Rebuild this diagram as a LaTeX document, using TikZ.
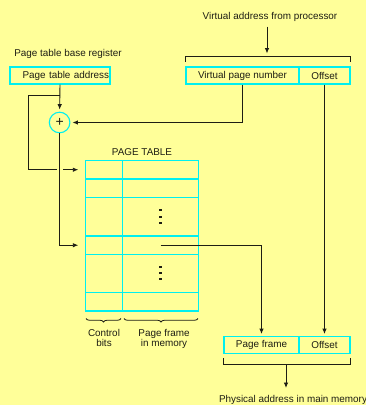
\documentclass[tikz,border=0pt]{standalone}
\usepackage{fontspec}
\setmainfont{Liberation Sans}
\usetikzlibrary{arrows.meta,decorations.pathreplacing}
\definecolor{paper}{RGB}{255,255,153}
\definecolor{regline}{RGB}{0,240,240}
\definecolor{ink}{RGB}{30,30,20}
\tikzset{
  reg/.style={draw=regline, line width=1.1pt, inner sep=0pt, minimum height=17pt, text=ink},
  lbl/.style={inner sep=0pt, anchor=base, text=ink},
  wire/.style={draw=ink, line width=0.9pt},
  arr/.style={wire, -{Latex[length=5.5pt,width=4.5pt]}},
  grid/.style={draw=regline, line width=1.1pt},
  dotmark/.style={fill=ink},
  brc/.style={draw=ink, line width=0.8pt, decorate, decoration={brace, mirror, amplitude=3.5pt}}
}
\begin{document}
\begin{tikzpicture}[x=1pt, y=-1pt, font=\fontsize{9.9}{9.4}\selectfont]
\fill[paper] (0,0) rectangle (366,405);
\useasboundingbox (0,0) rectangle (366,405);

% --- virtual address register ---
\node[lbl] (vatext) at (270,19) {Virtual address from processor};
\node[reg, minimum width=113pt] (vpn) at (242.5,75.5) {Virtual page number};
\node[reg, minimum width=51pt] (voff) at (324.5,75.5) {Offset};
\coordinate (vaTop) at (267,26.7);
\coordinate (vaBrk) at (267,57);
\draw[wire] ([yshift=4.7pt]vpn.north west) -- ([yshift=10pt]vpn.north west)
  -- ([yshift=10pt]voff.north east) -- ([yshift=4.7pt]voff.north east);
\draw[arr, shorten >=3.5pt] (vaTop) -- (vaBrk);

% --- page table base register ---
\node[lbl] (ptbrtext) at (68,56) {Page table base register};
\node[reg, minimum width=100pt, text width=98pt, inner xsep=1pt, align=right] (pta) at (60,75.5) {Page table address};

% --- adder ---
\node[circle, draw=regline, line width=1.1pt, minimum size=20.6pt, inner sep=0pt, text=ink,
      font=\fontsize{14}{14}\selectfont] (sum) at (59.6,122.5) {+};

% --- page table ---
\node[lbl] (pttitle) at (142,155) {PAGE TABLE};
\node[grid, minimum width=113.4pt, minimum height=150.7pt, inner sep=0pt] (ptab) at (142,235.65) {};
\draw[grid] (122.3,160.3) -- (122.3,311);
\foreach \r in {179,197.3,236,254.3,292.7}
  \draw[grid] (85.3,\r) -- (198.7,\r);
\foreach \d in {210.3,216.7,223,266.7,273,279.3}
  \fill[dotmark] (159.3,\d-1.1) rectangle (161.5,\d+1.1);

\coordinate (e0) at (85.3,169.7);
\coordinate (e3) at (85.3,245.2);
\coordinate (frame) at (160.7,245.2);

% --- physical address register ---
\node[reg, minimum width=75pt] (pf) at (261.5,344.9) {Page frame};
\node[reg, minimum width=51pt] (poff) at (324.5,344.9) {Offset};
\draw[wire] ([yshift=-4.3pt]pf.south west) -- ([yshift=-10.3pt]pf.south west)
  -- ([yshift=-10.3pt]poff.south east) -- ([yshift=-4.3pt]poff.south east);
\coordinate (paBrk) at (286,364.3);
\coordinate (paEnd) at (286,388);
\draw[arr] (paBrk) -- (paEnd);
\node[lbl] (patext) at (293,402.7) {Physical address in main memory};

% --- connectors ---
\coordinate (junc) at (60,95.7);
\coordinate (loopL) at (28.3,95.7);
\coordinate (hopA) at (56.7,169.7);
\coordinate (hopB) at (63.3,169.7);
\draw[arr, shorten >=2pt] (pta.south) -- (sum.north);
\draw[wire] (junc) -- (loopL) |- (hopA);
\draw[arr, shorten >=7pt] (hopB) -- (e0);
\draw[arr, shorten >=2pt] (vpn.south) |- (sum.east);
\draw[arr, shorten >=7pt] (sum.south) |- (e3);
\draw[arr, shorten >=1.8pt] (frame) -| (pf.north);
\draw[arr, shorten >=1.8pt] (voff.south) -- (poff.north);

% --- field braces ---
\draw[brc] (86,318.5) -- (121,318.5);
\draw[brc] (124,318.5) -- (198,318.5);
\node[lbl, align=center] (ctl) at (104,346) {Control\\bits};
\node[lbl, align=center] (pfm) at (164,346) {Page frame\\in memory};
\end{tikzpicture}
\end{document}
